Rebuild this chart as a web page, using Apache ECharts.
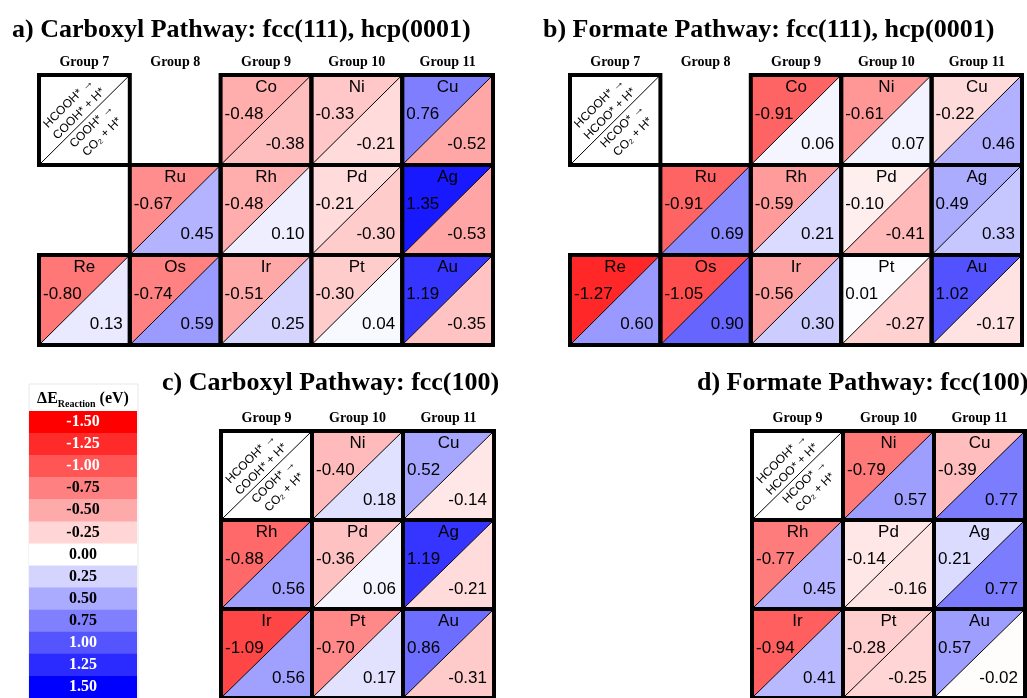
<!DOCTYPE html>
<html>
<head>
<meta charset="utf-8">
<script src="https://cdn.jsdelivr.net/npm/echarts@6/dist/echarts.min.js"></script>
<style>
  html, body { margin: 0; padding: 0; background: #fff; }
  #main { width: 1027px; height: 698px; }
</style>
</head>
<body>
<div id="main"></div>
<script>
// categories
const groups111 = ['Group 7', 'Group 8', 'Group 9', 'Group 10', 'Group 11'];
const groups100 = ['Group 9', 'Group 10', 'Group 11'];
const periods = ['3d', '4d', '5d'];

// fcc(111) / hcp(0001) metals
const metals111 = ['Co', 'Ni', 'Cu', 'Ru', 'Rh', 'Pd', 'Ag', 'Re', 'Os', 'Ir', 'Pt', 'Au'];
const group111 = ['Group 9', 'Group 10', 'Group 11', 'Group 8', 'Group 9', 'Group 10', 'Group 11',
                  'Group 7', 'Group 8', 'Group 9', 'Group 10', 'Group 11'];
const period111 = ['3d', '3d', '3d', '4d', '4d', '4d', '4d', '5d', '5d', '5d', '5d', '5d'];
const carboxyl111Step1 = [-0.48, -0.33, 0.76, -0.67, -0.48, -0.21, 1.35, -0.80, -0.74, -0.51, -0.30, 1.19];
const carboxyl111Step2 = [-0.38, -0.21, -0.52, 0.45, 0.10, -0.30, -0.53, 0.13, 0.59, 0.25, 0.04, -0.35];
const formate111Step1 = [-0.91, -0.61, -0.22, -0.91, -0.59, -0.10, 0.49, -1.27, -1.05, -0.56, 0.01, 1.02];
const formate111Step2 = [0.06, 0.07, 0.46, 0.69, 0.21, -0.41, 0.33, 0.60, 0.90, 0.30, -0.27, -0.17];

// fcc(100) metals
const metals100 = ['Ni', 'Cu', 'Rh', 'Pd', 'Ag', 'Ir', 'Pt', 'Au'];
const group100 = ['Group 10', 'Group 11', 'Group 9', 'Group 10', 'Group 11', 'Group 9', 'Group 10', 'Group 11'];
const period100 = ['3d', '3d', '4d', '4d', '4d', '5d', '5d', '5d'];
const carboxyl100Step1 = [-0.40, 0.52, -0.88, -0.36, 1.19, -1.09, -0.70, 0.86];
const carboxyl100Step2 = [0.18, -0.14, 0.56, 0.06, -0.21, 0.56, 0.17, -0.31];
const formate100Step1 = [-0.79, -0.39, -0.77, -0.14, 0.21, -0.94, -0.28, 0.57];
const formate100Step2 = [0.57, 0.77, 0.45, -0.16, 0.77, 0.41, -0.25, -0.02];

// colour key
const legendTicks = [-1.50, -1.25, -1.00, -0.75, -0.50, -0.25, 0.00, 0.25, 0.50, 0.75, 1.00, 1.25, 1.50];

// key cell texts
const keyCarboxyl = ['HCOOH* →', 'COOH* + H*', 'COOH* →', 'CO₂ + H*'];
const keyFormate = ['HCOOH* →', 'HCOO* + H*', 'HCOO* →', 'CO₂ + H*'];

var SANS = '"Liberation Sans", Arial, sans-serif';
var SERIF = '"Liberation Serif", "Times New Roman", serif';

var chart = echarts.init(document.getElementById('main'));

function energyColor(v) {
    var t = Math.max(0, Math.min(1, (v + 1.5) / 3));
    return echarts.color.lerp(t, ['#ff0000', '#ffffff', '#0000ff']);
}

function txt(x, y, s, align, size) {
    return {
        type: 'text', z2: 10,
        style: { text: s, x: x, y: y, align: align, verticalAlign: 'middle',
                 fontSize: size || 17, fontFamily: SANS, fill: '#000' }
    };
}

function keyLabel(x, y, s) {
    return {
        type: 'text', z2: 10, x: x, y: y, rotation: Math.PI / 4,
        style: { text: s, x: 0, y: 0, align: 'center', verticalAlign: 'middle',
                 fontSize: 12, lineHeight: 15, fontFamily: SANS, fill: '#000' }
    };
}

// one custom series per panel: two triangles + diagonal + border + labels per cell
var panelSeries = function(gridIdx, groups, metals, groupOf, periodOf, step1, step2, keyGroup, keyText) {
    var data = metals.map(function(m, i) {
        return [groups.indexOf(groupOf[i]), periods.indexOf(periodOf[i]), step1[i], step2[i]];
    });
    data.push([groups.indexOf(keyGroup), 0, 0, 0]);
    return {
        type: 'custom',
        xAxisIndex: gridIdx,
        yAxisIndex: gridIdx,
        silent: true,
        data: data,
        renderItem: function(params, api) {
            var i = params.dataIndex;
            var p = api.coord([api.value(0), api.value(1)]);
            var s = api.size([1, 1]);
            var l = p[0] - s[0] / 2, t = p[1] - s[1] / 2, r = l + s[0], b = t + s[1];
            var border = { type: 'rect', z2: 20, shape: { x: l, y: t, width: s[0], height: s[1] },
                           style: { fill: 'none', stroke: '#000', lineWidth: 4 } };
            var diag = { type: 'line', z2: 5, shape: { x1: l, y1: b, x2: r, y2: t },
                         style: { stroke: '#000', lineWidth: 1 } };
            if (i === metals.length) {
                var cx = (l + r) / 2, cy = (t + b) / 2, d = 11.5;
                return {
                    type: 'group',
                    children: [
                        { type: 'rect', shape: { x: l, y: t, width: s[0], height: s[1] }, style: { fill: '#fff' } },
                        diag, border,
                        keyLabel(cx - d + 1, cy - d, keyText[0] + '\n' + keyText[1]),
                        keyLabel(cx + d + 1, cy + d, keyText[2] + '\n' + keyText[3])
                    ]
                };
            }
            var v1 = api.value(2), v2 = api.value(3);
            return {
                type: 'group',
                children: [
                    { type: 'polygon', shape: { points: [[l, t], [r, t], [l, b]] }, style: { fill: energyColor(v1) } },
                    { type: 'polygon', shape: { points: [[r, t], [r, b], [l, b]] }, style: { fill: energyColor(v2) } },
                    diag, border,
                    txt((l + r) / 2, t + 12, metals[i], 'center'),
                    txt(l + 4, t + 39, v1.toFixed(2), 'left'),
                    txt(r - 7, t + 69, v2.toFixed(2), 'right')
                ]
            };
        }
    };
};

function groupAxis(grid, groups) {
    return {
        type: 'category', gridIndex: grid, data: groups, position: 'top',
        axisLine: { show: false }, axisTick: { show: false }, splitLine: { show: false },
        axisLabel: { fontFamily: SERIF, fontWeight: 'bold', fontSize: 14, color: '#000', margin: 6 }
    };
}

function periodAxis(grid, cats) {
    return { type: 'category', gridIndex: grid, data: cats, inverse: true, show: false };
}

var titleStyle = { fontFamily: SERIF, fontWeight: 'bold', fontSize: 26, color: '#000' };

var option = {
    backgroundColor: '#fff',
    animation: false,
    title: [
        { text: 'a) Carboxyl Pathway: fcc(111), hcp(0001)', left: 7, top: 12, textStyle: titleStyle },
        { text: 'b) Formate Pathway: fcc(111), hcp(0001)', left: 538, top: 12, textStyle: titleStyle },
        { text: 'c) Carboxyl Pathway: fcc(100)', left: 157, top: 365, textStyle: titleStyle },
        { text: 'd) Formate Pathway: fcc(100)', left: 692, top: 365, textStyle: titleStyle }
    ],
    grid: [
        { left: 39, top: 75, width: 454, height: 270 },
        { left: 570, top: 75, width: 452, height: 270 },
        { left: 221, top: 431, width: 273, height: 273 },
        { left: 752, top: 431, width: 273, height: 273 },
        { left: 29, top: 411, width: 108, height: 287 }
    ],
    xAxis: [
        groupAxis(0, groups111),
        groupAxis(1, groups111),
        groupAxis(2, groups100),
        groupAxis(3, groups100),
        { type: 'category', gridIndex: 4, data: [''], show: false }
    ],
    yAxis: [
        periodAxis(0, periods),
        periodAxis(1, periods),
        periodAxis(2, periods),
        periodAxis(3, periods),
        periodAxis(4, legendTicks.map(String))
    ],
    graphic: [
        { type: 'rect', shape: { x: 29, y: 384, width: 109, height: 320 },
          style: { fill: 'none', stroke: '#e8e8e8', lineWidth: 1 } },
        { type: 'text', x: 83, y: 399,
          style: {
              text: '{a|ΔE}{s|Reaction}{a| (eV)}', align: 'center', verticalAlign: 'middle',
              rich: {
                  a: { fontFamily: SERIF, fontWeight: 'bold', fontSize: 16, lineHeight: 20, fill: '#000' },
                  s: { fontFamily: SERIF, fontWeight: 'bold', fontSize: 10, lineHeight: 10, verticalAlign: 'bottom', fill: '#000' }
              }
          } }
    ],
    series: [
        panelSeries(0, groups111, metals111, group111, period111, carboxyl111Step1, carboxyl111Step2, 'Group 7', keyCarboxyl),
        panelSeries(1, groups111, metals111, group111, period111, formate111Step1, formate111Step2, 'Group 7', keyFormate),
        panelSeries(2, groups100, metals100, group100, period100, carboxyl100Step1, carboxyl100Step2, 'Group 9', keyCarboxyl),
        panelSeries(3, groups100, metals100, group100, period100, formate100Step1, formate100Step2, 'Group 9', keyFormate),
        {
            type: 'custom', xAxisIndex: 4, yAxisIndex: 4, silent: true,
            data: legendTicks.map(function(v, k) { return [0, k, v]; }),
            renderItem: function(params, api) {
                var p = api.coord([api.value(0), api.value(1)]);
                var s = api.size([1, 1]);
                var v = api.value(2);
                return {
                    type: 'group',
                    children: [
                        { type: 'rect', shape: { x: p[0] - s[0] / 2, y: p[1] - s[1] / 2, width: s[0], height: s[1] + 0.5 },
                          style: { fill: energyColor(v) } },
                        { type: 'text', z2: 10,
                          style: { text: v.toFixed(2), x: p[0], y: p[1], align: 'center', verticalAlign: 'middle',
                                   fontFamily: SERIF, fontWeight: 'bold', fontSize: 16,
                                   fill: Math.abs(v) >= 1 ? '#fff' : '#000' } }
                    ]
                };
            }
        }
    ]
};

chart.setOption(option);
window.onresize = function() {
    chart.resize();
};
</script>
</body>
</html>
